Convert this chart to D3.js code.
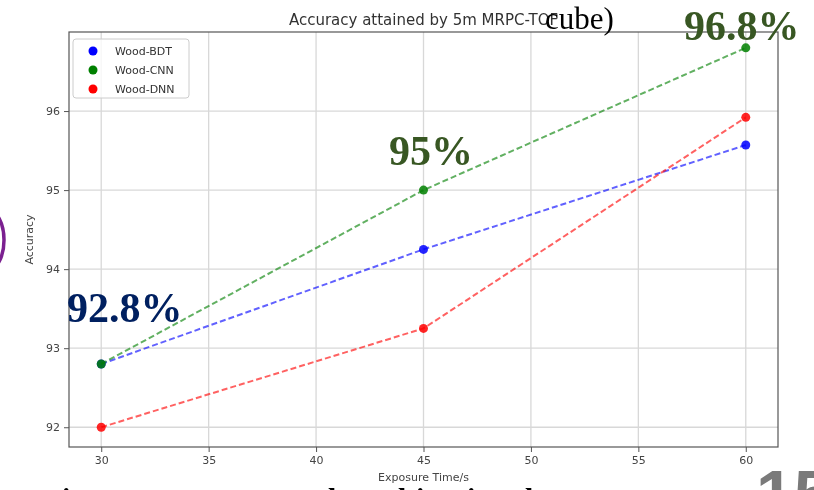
<!DOCTYPE html>
<html>
<head>
<meta charset="utf-8">
<script src="https://cdn.jsdelivr.net/npm/d3@7"></script>
<style>
  html, body { margin: 0; padding: 0; background: #fff; }
  svg { display: block; }
</style>
</head>
<body>
<svg id="chart" width="814" height="490"></svg>
<script>
// Exposure times (s) and accuracy (%) per classifier
const exposureTimes = [30, 45, 60];
const woodBDT = [92.8, 94.25, 95.57];
const woodCNN = [92.8, 95.0, 96.8];
const woodDNN = [92.0, 93.25, 95.92];
const seriesNames = ["Wood-BDT", "Wood-CNN", "Wood-DNN"];
const seriesColors = ["#0000ff", "#008000", "#ff0000"];
const xTicks = [30, 35, 40, 45, 50, 55, 60];
const yTicks = [92, 93, 94, 95, 96];
const calloutValues = [92.8, 95, 96.8];

const W = 814, H = 490;
const margin = { left: 69, right: 36, top: 32, bottom: 43 };
const svg = d3.select("#chart");

const defs = svg.append("defs");
defs.append("filter").attr("id", "soft")
  .append("feGaussianBlur").attr("stdDeviation", 0.55);

const x = d3.scaleLinear().domain([28.5, 61.5]).range([margin.left, W - margin.right]);
const y = d3.scaleLinear().domain([91.75, 97.0]).range([H - margin.bottom, margin.top]);

const plot = svg.append("g").attr("filter", "url(#soft)");
const sansFont = "'DejaVu Sans', sans-serif";

// grid
plot.append("g").selectAll("line.vg").data(xTicks).join("line")
  .attr("x1", d => x(d)).attr("x2", d => x(d))
  .attr("y1", y.range()[1]).attr("y2", y.range()[0])
  .attr("stroke", "#d8d8d8").attr("stroke-width", 1.3);
plot.append("g").selectAll("line.hg").data(yTicks).join("line")
  .attr("y1", d => y(d)).attr("y2", d => y(d))
  .attr("x1", x.range()[0]).attr("x2", x.range()[1])
  .attr("stroke", "#d8d8d8").attr("stroke-width", 1.3);

// axes
const xAxis = plot.append("g")
  .attr("transform", `translate(0,${H - margin.bottom})`)
  .call(d3.axisBottom(x).tickValues(xTicks).tickSize(5).tickPadding(4).tickFormat(d3.format("d")));
const yAxis = plot.append("g")
  .attr("transform", `translate(${margin.left},0)`)
  .call(d3.axisLeft(y).tickValues(yTicks).tickSize(5).tickPadding(4).tickFormat(d3.format("d")));
[xAxis, yAxis].forEach(a => {
  a.select(".domain").remove();
  a.selectAll(".tick line").attr("stroke", "#555").attr("stroke-width", 1);
  a.selectAll(".tick text").attr("fill", "#444").attr("font-family", sansFont).attr("font-size", 11);
});

// frame
plot.append("rect")
  .attr("x", x.range()[0]).attr("y", y.range()[1])
  .attr("width", x.range()[1] - x.range()[0])
  .attr("height", y.range()[0] - y.range()[1])
  .attr("fill", "none").attr("stroke", "#555").attr("stroke-width", 1.2);

// series
const series = [woodBDT, woodCNN, woodDNN].map((vals, i) => ({
  name: seriesNames[i], color: seriesColors[i],
  pts: exposureTimes.map((t, j) => ({ t, v: vals[j] }))
}));
const line = d3.line().x(d => x(d.t)).y(d => y(d.v));
const order = [0, 2, 1];
order.forEach(i => {
  const s = series[i];
  plot.append("path").datum(s.pts)
    .attr("d", line).attr("fill", "none")
    .attr("stroke", s.color).attr("stroke-opacity", 0.62)
    .attr("stroke-width", 2).attr("stroke-dasharray", "6,3");
  plot.append("g").selectAll("circle").data(s.pts).join("circle")
    .attr("cx", d => x(d.t)).attr("cy", d => y(d.v)).attr("r", 4.5)
    .attr("fill", s.color).attr("fill-opacity", 0.85);
});

// title and axis labels
plot.append("text")
  .attr("x", (x.range()[0] + x.range()[1]) / 2).attr("y", 25)
  .attr("text-anchor", "middle").attr("font-family", sansFont)
  .attr("font-size", 15).attr("fill", "#333")
  .text("Accuracy attained by 5m MRPC-TOF");
plot.append("text")
  .attr("x", (x.range()[0] + x.range()[1]) / 2).attr("y", 481)
  .attr("text-anchor", "middle").attr("font-family", sansFont)
  .attr("font-size", 11).attr("fill", "#444")
  .text("Exposure Time/s");
plot.append("text")
  .attr("transform", `translate(33,${(y.range()[0] + y.range()[1]) / 2}) rotate(-90)`)
  .attr("text-anchor", "middle").attr("font-family", sansFont)
  .attr("font-size", 11).attr("fill", "#444")
  .text("Accuracy");

// legend
const lg = plot.append("g").attr("transform", "translate(73,39)");
lg.append("rect").attr("width", 116).attr("height", 59).attr("rx", 3)
  .attr("fill", "#fff").attr("fill-opacity", 0.8)
  .attr("stroke", "#ccc").attr("stroke-width", 1);
series.forEach((s, i) => {
  lg.append("circle").attr("cx", 20).attr("cy", 12 + i * 19).attr("r", 4.5).attr("fill", s.color);
  lg.append("text").attr("x", 42).attr("y", 16 + i * 19)
    .attr("font-family", sansFont).attr("font-size", 11).attr("fill", "#333")
    .text(s.name);
});

// slide overlay text
const serif = "'Liberation Serif', 'Times New Roman', serif";
svg.append("text").attr("x", 545).attr("y", 29)
  .attr("font-family", serif).attr("font-size", 31).attr("fill", "#000")
  .text("cube)");

const callouts = [
  { v: calloutValues[0], x: 67, y: 322, color: "#002060" },
  { v: calloutValues[1], x: 389, y: 165, color: "#385723" },
  { v: calloutValues[2], x: 684, y: 40, color: "#385723" }
];
svg.selectAll("text.callout").data(callouts).join("text")
  .attr("class", "callout")
  .attr("x", d => d.x).attr("y", d => d.y)
  .attr("font-family", serif).attr("font-weight", "bold").attr("font-size", 42)
  .attr("fill", d => d.color)
  .text(d => `${d.v}%`);

// outline shape peeking in from the left edge
svg.append("ellipse").attr("cx", -12).attr("cy", 240).attr("rx", 16).attr("ry", 30)
  .attr("fill", "none").attr("stroke", "#7b2090").attr("stroke-width", 3.5);

// next slide line, mostly below the visible area
const lowerLine = [
  { ch: "i", x: 62 }, { ch: "t", x: 304 }, { ch: "l", x: 328 },
  { ch: "t", x: 366 }, { ch: "l", x: 398 }, { ch: "i", x: 416 },
  { ch: "i", x: 467 }, { ch: "t", x: 479 }, { ch: "l", x: 525 }
];
svg.append("text")
  .attr("font-family", serif).attr("font-weight", "bold").attr("font-size", 30).attr("fill", "#000")
  .selectAll("tspan").data(lowerLine).join("tspan")
  .attr("x", d => d.x).attr("y", 509).text(d => d.ch);

// page number
svg.append("text").attr("x", 756).attr("y", 518)
  .attr("font-family", "'Liberation Sans', Arial, sans-serif").attr("font-weight", "bold")
  .attr("font-size", 68).attr("fill", "#7a7a7a")
  .text("15");
</script>
</body>
</html>
